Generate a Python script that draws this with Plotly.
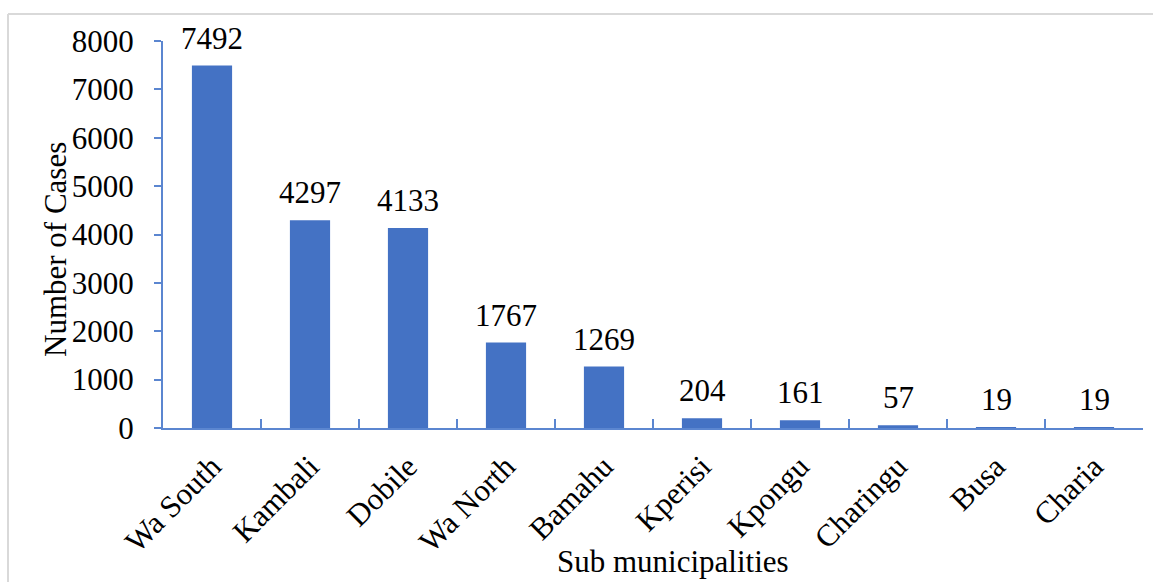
import plotly.graph_objects as go

categories = ["Wa South", "Kambali", "Dobile", "Wa North", "Bamahu", "Kperisi",
              "Kpongu", "Charingu", "Busa", "Charia"]
cases = [7492, 4297, 4133, 1767, 1269, 204, 161, 57, 19, 19]
y_ticks = [0, 1000, 2000, 3000, 4000, 5000, 6000, 7000, 8000]

FONT = "Liberation Serif, Times New Roman, serif"
AXIS = "#5B86D0"
BAR = "#4472C4"
FS = 31

W, H = 1153, 582
L, R, T, B = 163, 10, 41, 154
pw, ph = W - L - R, H - T - B

fig = go.Figure(go.Bar(
    x=categories, y=cases, marker_color=BAR, marker_line_width=0,
    cliponaxis=False,
))

value_labels = [
    dict(x=c, y=v, xref="x", yref="y", text=str(v), showarrow=False,
         xanchor="center", yanchor="bottom", yshift=8,
         font=dict(family=FONT, size=FS, color="black"))
    for c, v in zip(categories, cases)
]

fig.update_layout(
    width=W, height=H, autosize=False,
    margin=dict(l=L, r=R, t=T, b=B),
    paper_bgcolor="white", plot_bgcolor="white",
    bargap=0.59, showlegend=False,
    font=dict(family=FONT, size=FS, color="black"),
    xaxis=dict(showline=True, linecolor=AXIS, linewidth=2, ticks="inside",
               tickson="boundaries", ticklen=9, tickcolor=AXIS, tickwidth=2,
               tickangle=-45, tickfont=dict(family=FONT, size=FS, color="black"),
               ticklabelstandoff=6, showgrid=False, zeroline=False),
    yaxis=dict(range=[0, 8000], tickvals=y_ticks, showline=True, linecolor=AXIS,
               linewidth=2, ticks="outside", ticklen=7, tickcolor=AXIS, tickwidth=2,
               tickfont=dict(family=FONT, size=FS, color="black"),
               ticklabelstandoff=14, showgrid=False, zeroline=False),
    annotations=value_labels + [
        dict(text="Number of Cases", xref="paper", yref="paper",
             x=(55 - L) / pw, y=1 - (250 - T) / ph, textangle=-90, showarrow=False,
             font=dict(family=FONT, size=FS, color="black"),
             xanchor="center", yanchor="middle"),
        dict(text="Sub municipalities", xref="paper", yref="paper",
             x=(673 - L) / pw, y=-(561 - T - ph) / ph, showarrow=False,
             font=dict(family=FONT, size=FS, color="black"),
             xanchor="center", yanchor="middle"),
    ],
    shapes=[
        dict(type="line", xref="paper", yref="paper",
             x0=(8 - L) / pw, x1=(8 - L) / pw, y0=1 + (T - 14) / ph, y1=-(B + 10) / ph,
             line=dict(color="#D9D9D9", width=2), layer="below"),
        dict(type="line", xref="paper", yref="paper",
             x0=(8 - L) / pw, x1=1 + (R + 10) / pw, y0=1 + (T - 14) / ph, y1=1 + (T - 14) / ph,
             line=dict(color="#D9D9D9", width=2), layer="below"),
    ],
)

fig.write_html("out.html")
